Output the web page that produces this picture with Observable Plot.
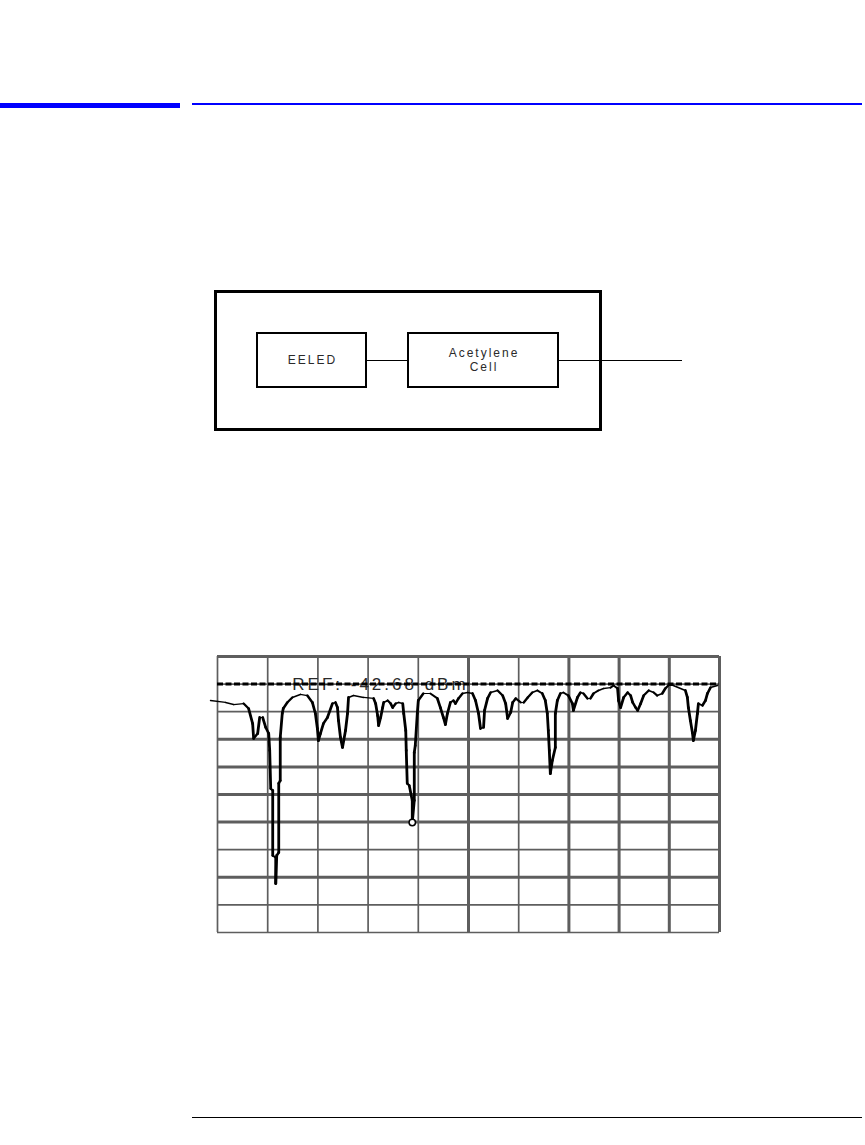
<!DOCTYPE html>
<html>
<head>
<meta charset="utf-8">
<script src="https://cdn.jsdelivr.net/npm/d3@7"></script>
<script src="https://cdn.jsdelivr.net/npm/@observablehq/plot@0.6"></script>
<style>
  html, body { margin: 0; padding: 0; background: #fff; }
  #page { position: relative; width: 865px; height: 1145px; overflow: hidden; font-family: "Liberation Sans", Arial, sans-serif; }
  .abs { position: absolute; box-sizing: border-box; }
  .hdr-bar { left: 0; top: 103px; width: 180px; height: 5px; background: #0000ff; }
  .hdr-line { left: 192px; top: 103px; width: 670px; height: 1.5px; background: #0000ff; }
  .foot-line { left: 192px; top: 1117px; width: 670px; height: 1px; background: #000; }
  .outer { left: 214px; top: 290px; width: 388px; height: 141px; border: 3px solid #000; }
  .box { top: 332px; height: 56px; border: 2px solid #000; display: flex; align-items: center; justify-content: center; text-align: center; font-size: 12px; line-height: 14px; color: #2a2a2a; letter-spacing: 2px; padding-left: 2px; }
  .b1 { left: 256px; width: 111px; }
  .b2 { left: 407px; width: 152px; }
  .wire { top: 360px; height: 1px; background: #000; }
  .w1 { left: 366px; width: 42px; }
  .w2 { left: 558px; width: 124px; }
  #chart { position: absolute; left: 0; top: 636px; }
</style>
</head>
<body>
<div id="page">
  <div class="abs hdr-bar"></div>
  <div class="abs hdr-line"></div>
  <div class="abs outer"></div>
  <div class="abs wire w1"></div>
  <div class="abs wire w2"></div>
  <div class="abs box b1" id="c0"></div>
  <div class="abs box b2" id="c1"></div>
  <div id="chart"></div>
  <div class="abs foot-line"></div>
</div>
<script>
// Diagram component labels
const components = ["EELED", "Acetylene Cell"];

// Reference level (dBm) and its label
const refLevel = -42.68;
const refLabel = "REF: -42.68 dBm";

// Grid divisions (10 x 10), vertical scale assumed 2 dB/div
const gridX = [0, 1, 2, 3, 4, 5, 6, 7, 8, 9, 10];
const gridY = [-40.68, -42.68, -44.68, -46.68, -48.68, -50.68, -52.68, -54.68, -56.68, -58.68, -60.68];

// Spectrum trace: horizontal position in divisions, level in dBm
const traceX = [-0.14,0.16,0.32,0.52,0.62,0.70,0.72,0.80,0.84,0.90,0.96,1.02,1.04,1.06,1.10,1.10,1.16,1.16,1.18,1.22,
  1.22,1.25,1.25,1.29,1.31,1.39,1.49,1.65,1.79,1.89,1.95,1.99,2.01,2.05,2.11,2.19,2.29,2.35,2.39,2.41,
  2.45,2.49,2.55,2.59,2.61,2.71,2.91,3.11,3.15,3.19,3.21,3.25,3.29,3.31,3.39,3.45,3.49,3.55,3.61,3.69,
  3.71,3.75,3.76,3.78,3.82,3.88,3.88,3.92,3.92,3.94,3.98,4.00,4.10,4.24,4.38,4.44,4.50,4.54,4.58,4.64,
  4.70,4.74,4.80,4.88,4.98,5.08,5.14,5.20,5.24,5.30,5.32,5.38,5.44,5.58,5.68,5.74,5.78,5.84,5.88,5.94,
  6.04,6.10,6.18,6.27,6.37,6.47,6.53,6.57,6.59,6.61,6.63,6.67,6.73,6.73,6.77,6.83,6.89,6.99,7.07,7.09,
  7.17,7.23,7.29,7.37,7.43,7.49,7.59,7.69,7.83,7.89,7.97,7.99,8.03,8.09,8.17,8.23,8.27,8.33,8.37,8.43,
  8.49,8.59,8.69,8.76,8.86,8.92,8.98,9.08,9.32,9.36,9.38,9.42,9.46,9.48,9.52,9.56,9.58,9.66,9.72,9.76,
  9.82,9.96];
const traceDbm = [-43.87,-44.01,-44.16,-44.09,-44.45,-45.54,-46.62,-46.26,-45.10,-45.10,-45.82,-46.26,-47.49,-50.25,-50.39,-55.10,-55.25,-57.13,-55.10,-54.88,
  -49.88,-49.67,-46.55,-44.81,-44.45,-44.01,-43.65,-43.43,-43.51,-44.01,-44.81,-45.90,-46.77,-46.26,-45.54,-45.10,-44.09,-44.01,-44.38,-45.32,
  -46.55,-47.27,-46.04,-44.81,-43.65,-43.51,-43.65,-43.72,-44.09,-44.96,-45.68,-45.10,-44.38,-44.01,-43.87,-44.09,-44.38,-44.09,-44.01,-44.09,
  -44.81,-46.04,-47.49,-49.88,-50.03,-51.11,-52.71,-51.11,-47.64,-47.13,-44.81,-43.87,-43.36,-43.36,-43.72,-44.38,-45.10,-45.61,-44.81,-44.01,
  -43.87,-44.09,-43.72,-43.36,-43.29,-43.36,-43.87,-44.81,-45.90,-45.82,-44.59,-43.72,-43.29,-43.14,-43.51,-44.09,-45.17,-44.74,-44.01,-43.72,
  -44.01,-44.01,-43.65,-43.29,-43.14,-43.36,-43.87,-44.81,-46.04,-47.49,-49.16,-48.22,-47.27,-44.81,-43.87,-43.36,-43.29,-43.51,-44.09,-44.59,
  -43.65,-43.29,-43.36,-43.72,-43.72,-43.36,-43.14,-43.00,-42.93,-42.78,-43.00,-43.87,-44.38,-43.65,-43.29,-43.51,-44.01,-44.38,-44.59,-44.09,
  -43.51,-43.14,-43.29,-43.51,-43.36,-43.00,-42.78,-42.78,-43.14,-43.65,-44.38,-45.32,-46.19,-46.77,-46.04,-44.81,-44.09,-44.23,-43.87,-43.36,
  -42.93,-42.78];

// Marker position
const markerX = [3.88];
const markerDbm = [-52.71];

document.getElementById("c0").textContent = components[0];
document.getElementById("c1").innerHTML = components[1].split(" ").join("<br>");

const trace = traceX.map((x, i) => ({x, y: traceDbm[i]}));
const marker = markerX.map((x, i) => ({x, y: markerDbm[i]}));

// Segment list so steep runs can be drawn heavier, like the instrument's bitmap pen
const pxPerDivX = 50.2, pxPerDb = 13.8;
const segs = trace.slice(1).map((p, i) => {
  const a = trace[i];
  const dx = (p.x - a.x) * pxPerDivX, dy = (p.y - a.y) * pxPerDb;
  const len = Math.hypot(dx, dy) || 1;
  return {x1: a.x, y1: a.y, x2: p.x, y2: p.y, w: 1.1 + 1.7 * Math.abs(dy) / len};
});

const thickV = new Set([5, 7, 8, 9, 10]);
const thickH = new Set([0, 3, 4, 5, 6, 8]);

const chart = Plot.plot({
  width: 865,
  height: 316,
  marginLeft: 217,
  marginRight: 146,
  marginTop: 20,
  marginBottom: 20,
  style: {fontFamily: "'Liberation Sans', Arial, sans-serif", background: "transparent", overflow: "visible"},
  x: {domain: [0, 10], axis: null},
  y: {domain: [-60.68, -40.68], axis: null},
  marks: [
    Plot.ruleX(gridX, {x: d => d, stroke: "#5e5e5e", strokeWidth: d => thickV.has(d) ? 3 : 1.7}),
    Plot.ruleY(gridY, {y: d => d, stroke: "#5e5e5e", strokeWidth: (d, i) => thickH.has(i) ? 3 : 1.7}),
    Plot.text([refLabel], {x: 1.49, y: refLevel, text: d => d, textAnchor: "start", fontSize: 17, fill: "#2a2a2a"}),
    Plot.ruleY([refLevel], {stroke: "#000", strokeWidth: 3, strokeDasharray: "6,2.5"}),
    Plot.link(segs, {x1: "x1", y1: "y1", x2: "x2", y2: "y2", stroke: "#000", strokeWidth: "w", strokeLinecap: "round"}),
    Plot.dot(marker, {x: "x", y: "y", r: 3.2, stroke: "#000", strokeWidth: 1.5, fill: "#fff"})
  ]
});
chart.querySelectorAll('g[aria-label="text"] text').forEach(t => t.style.letterSpacing = "3px");
document.getElementById("chart").appendChild(chart);
</script>
</body>
</html>
